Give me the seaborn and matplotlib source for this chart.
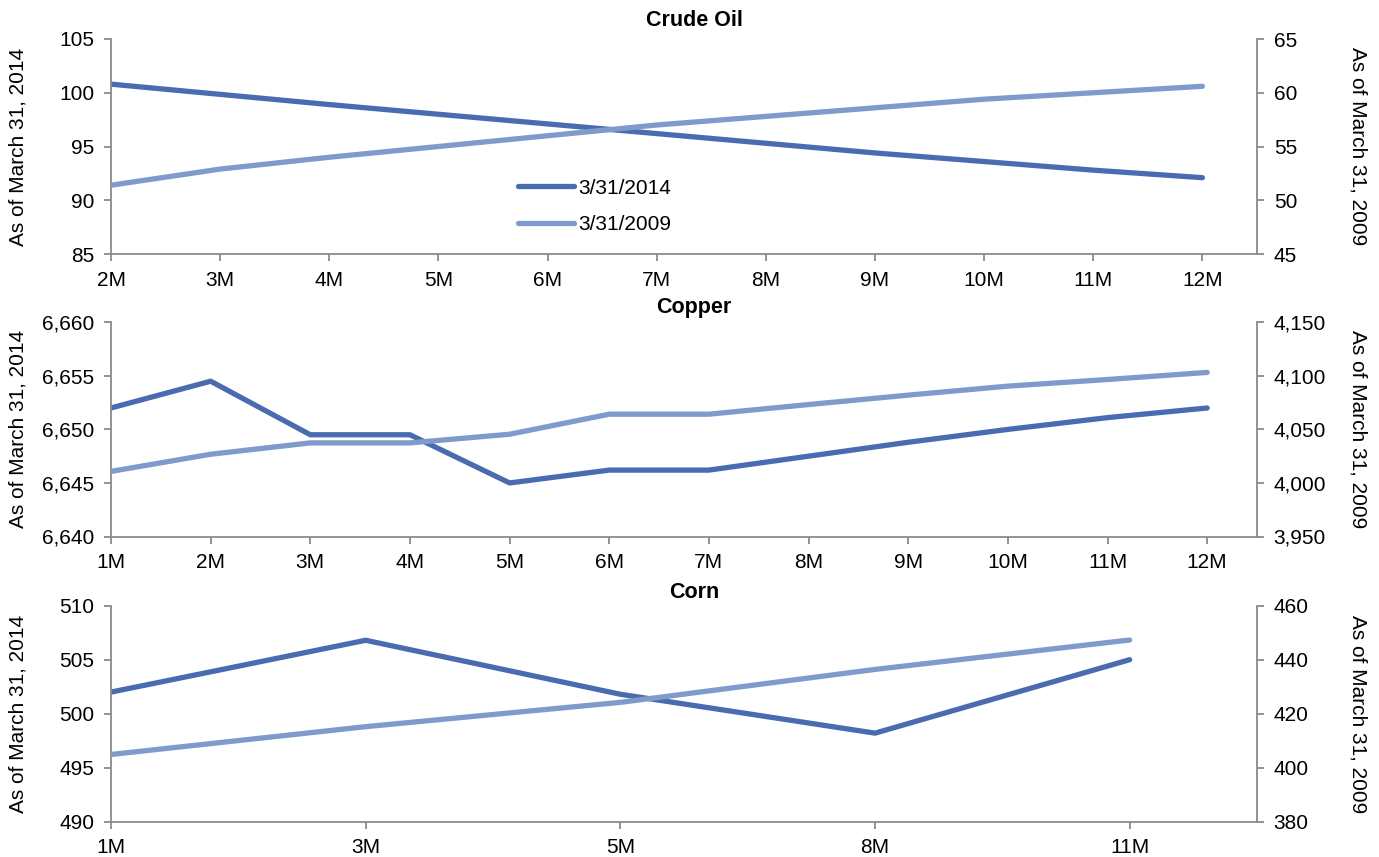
import numpy as np
import pandas as pd
import matplotlib
matplotlib.use("Agg")
import matplotlib.pyplot as plt
import seaborn as sns
from matplotlib.ticker import FuncFormatter, MultipleLocator

# ---------------- data ----------------
oil_tenors = ["2M", "3M", "4M", "5M", "6M", "7M", "8M", "9M", "10M", "11M", "12M"]
oil_2014 = [100.8, 99.85, 98.9, 98.0, 97.1, 96.2, 95.3, 94.4, 93.6, 92.8, 92.1]
oil_2009 = [51.4, 52.9, 54.0, 55.0, 56.0, 57.0, 57.8, 58.6, 59.4, 60.0, 60.6]

copper_tenors = ["1M", "2M", "3M", "4M", "5M", "6M", "7M", "8M", "9M", "10M", "11M", "12M"]
copper_2014 = [6652.0, 6654.5, 6649.5, 6649.5, 6645.0, 6646.2, 6646.2, 6647.5, 6648.8, 6650.0, 6651.1, 6652.0]
copper_2009 = [4010.8, 4026.8, 4037.4, 4037.4, 4045.5, 4064.2, 4064.2, 4073.2, 4082.0, 4090.4, 4096.6, 4103.2]

corn_tenors = ["1M", "3M", "5M", "8M", "11M"]
corn_2014 = [502.0, 506.8, 501.8, 498.2, 505.0]
corn_2009 = [404.9, 415.2, 424.2, 436.4, 447.3]

series_names = ["3/31/2014", "3/31/2009"]
left_label = "As of March 31, 2014"
right_label = "As of March 31, 2009"

# ---------------- style ----------------
sns.set_style("white")
plt.rcParams["font.family"] = ["Liberation Sans", "DejaVu Sans"]
plt.rcParams["text.color"] = "black"
plt.rcParams["axes.labelcolor"] = "black"
plt.rcParams["xtick.labelcolor"] = "black"
plt.rcParams["ytick.labelcolor"] = "black"

DARK = "#4A6BB0"
LIGHT = "#7F9BCC"
GRAY = "#8A8A8A"
LW = 3.8
FS = 15

W, H = 1379, 857
fig = plt.figure(figsize=(W / 100, H / 100), dpi=100)

L = 111 / W
AW = (1257 - 111) / W


def comma(v, pos):
    return f"{v:,.0f}"


def panel(top_px, bot_px, cats, v14, v09, ylim_l, step_l, ylim_r, step_r,
          title, title_px, fmt=None, legend=False):
    rect = [L, 1 - bot_px / H, AW, (bot_px - top_px) / H]
    ax = fig.add_axes(rect)
    x = np.arange(len(cats))
    df = pd.DataFrame({"x": x, "v14": v14, "v09": v09})
    sns.lineplot(data=df, x="x", y="v14", ax=ax, color=DARK, lw=LW,
                 solid_capstyle="round", legend=False)
    ax2 = ax.twinx()
    sns.lineplot(data=df, x="x", y="v09", ax=ax2, color=LIGHT, lw=LW,
                 solid_capstyle="round", legend=False)

    ax.set_xlim(0, len(cats) - 0.5)
    ax.set_xticks(x)
    ax.set_xticklabels(cats)
    ax.set_ylim(*ylim_l)
    ax.yaxis.set_major_locator(MultipleLocator(step_l))
    ax2.set_ylim(*ylim_r)
    ax2.yaxis.set_major_locator(MultipleLocator(step_r))
    if fmt is not None:
        ax.yaxis.set_major_formatter(FuncFormatter(fmt))
        ax2.yaxis.set_major_formatter(FuncFormatter(fmt))

    ax.set_xlabel("")
    ax.set_ylabel(left_label, fontsize=FS, color="black")
    ax2.set_ylabel(right_label, fontsize=FS, rotation=270, color="black")
    ax.yaxis.set_label_coords((28 - 111) / (1257 - 111), 0.5)
    ax2.yaxis.set_label_coords((1368 - 111) / (1257 - 111), 0.5)

    for s in ["top", "right"]:
        ax.spines[s].set_visible(False)
    for s in ["left", "bottom"]:
        ax.spines[s].set_color(GRAY)
        ax.spines[s].set_linewidth(1.3)
    for s in ["top", "left", "bottom"]:
        ax2.spines[s].set_visible(False)
    ax2.spines["right"].set_color(GRAY)
    ax2.spines["right"].set_linewidth(1.3)

    ax.tick_params(axis="both", which="major", direction="out", length=5,
                   width=1.3, color=GRAY, labelcolor="black", labelsize=FS,
                   pad=7, bottom=True, left=True)
    ax2.tick_params(axis="y", which="major", direction="out", length=5,
                    width=1.3, color=GRAY, labelcolor="black", labelsize=FS,
                    pad=7, right=True)
    ax.grid(False)
    ax2.grid(False)

    fig.text(694 / W, 1 - title_px / H, title, ha="center", va="center",
             fontsize=15.5, fontweight="bold", color="black")

    if legend:
        handles = [ax.lines[0], ax2.lines[0]]
        leg = ax.legend(handles, series_names, loc="upper left",
                        bbox_to_anchor=((518 - 111) / (1257 - 111), 0.35),
                        frameon=False, handlelength=2.7, handletextpad=0.2,
                        labelspacing=0.85, fontsize=FS, borderpad=0,
                        borderaxespad=0)
        for t in leg.get_texts():
            t.set_color("black")
    return ax, ax2


panel(39, 254, oil_tenors, oil_2014, oil_2009, (85, 105), 5, (45, 65), 5,
      "Crude Oil", 21, legend=True)
panel(322.3, 536.5, copper_tenors, copper_2014, copper_2009, (6640, 6660), 5,
      (3950, 4150), 50, "Copper", 308, fmt=comma)
panel(605.7, 821.7, corn_tenors, corn_2014, corn_2009, (490, 510), 5,
      (380, 460), 20, "Corn", 593)

fig.savefig("out.png", dpi=100)
